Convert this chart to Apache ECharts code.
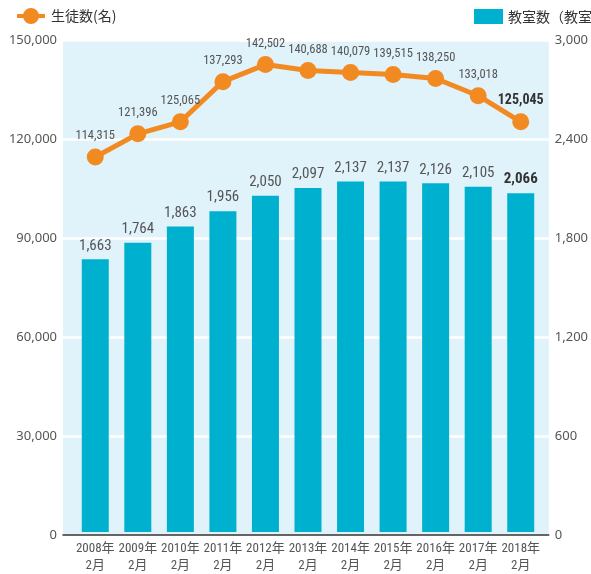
<!DOCTYPE html>
<html>
<head>
  <meta charset="utf-8">
  <title>生徒数と教室数</title>
  <script src="https://cdn.jsdelivr.net/npm/echarts@6/dist/echarts.min.js"></script>
  <style>
    body { margin: 0; background: #fff; }
    #chart { width: 591px; height: 574px; }
  </style>
</head>
<body>
  <div id="chart"></div>
  <script>
    const years = ['2008年\n2月', '2009年\n2月', '2010年\n2月', '2011年\n2月', '2012年\n2月', '2013年\n2月',
                   '2014年\n2月', '2015年\n2月', '2016年\n2月', '2017年\n2月', '2018年\n2月'];
    const students = [114315, 121396, 125065, 137293, 142502, 140688, 140079, 139515, 138250, 133018, 125045];
    const rooms = [1663, 1764, 1863, 1956, 2050, 2097, 2137, 2137, 2126, 2105, 2066];

    const narrow = "'Roboto Condensed', 'Noto Sans CJK JP', sans-serif";
    const cjk = "'Noto Sans CJK JP', sans-serif";
    const last = years.length - 1;
    // 凡例の線＋丸アイコン
    const lineIcon = 'path://M1,6 L29,6 L29,10 L1,10 Z M15,0 A8,8 0 1 1 15,16 A8,8 0 1 1 15,0 Z';

    const chart = echarts.init(document.getElementById('chart'));
    chart.setOption({
      animation: false,
      textStyle: { fontFamily: narrow },
      legend: [
        {
          data: [{ name: '生徒数(名)', icon: lineIcon }], left: 17, top: 8, padding: 0,
          itemWidth: 30, itemHeight: 16, itemGap: 8,
          textStyle: { fontFamily: cjk, fontSize: 14, color: '#333' }
        },
        {
          data: [{ name: '教室数（教室）', icon: 'rect' }], left: 474, top: 9, padding: 0,
          itemWidth: 29, itemHeight: 15, itemGap: 6,
          textStyle: { fontFamily: cjk, fontSize: 14, color: '#333' }
        }
      ],
      grid: [
        { left: 63, right: 40, top: 40, bottom: 39, show: true, backgroundColor: '#E0F2FA', borderWidth: 0 },
        { left: 74, right: 49, top: 40, bottom: 39 }
      ],
      xAxis: [
        {
          type: 'category', gridIndex: 0, data: years,
          axisLine: { lineStyle: { color: '#333', width: 1.5 } },
          axisTick: { show: false }, axisLabel: { show: false }
        },
        {
          type: 'category', gridIndex: 1, data: years,
          axisLine: { show: false }, axisTick: { show: false },
          axisLabel: { interval: 0, color: '#555', fontSize: 13, fontFamily: narrow, lineHeight: 17, margin: 8 }
        }
      ],
      yAxis: [
        {
          type: 'value', gridIndex: 0, min: 0, max: 150000, interval: 30000,
          axisLine: { show: false }, axisTick: { show: false },
          axisLabel: { color: '#555', fontSize: 13, fontFamily: "'Noto Sans', sans-serif", margin: 6,
            formatter: v => v.toLocaleString('en-US') },
          splitLine: { lineStyle: { color: '#fff', width: 2.5 } }
        },
        {
          type: 'value', gridIndex: 0, position: 'right', min: 0, max: 3000, interval: 600,
          axisLine: { show: false }, axisTick: { show: false },
          axisLabel: { color: '#555', fontSize: 13, fontFamily: "'Noto Sans', sans-serif", margin: 6,
            formatter: v => v.toLocaleString('en-US') },
          splitLine: { show: false }
        },
        { type: 'value', gridIndex: 1, min: 0, max: 150000, show: false },
        { type: 'value', gridIndex: 1, min: 0, max: 3000, show: false }
      ],
      series: [
        {
          name: '教室数（教室）', type: 'bar', xAxisIndex: 1, yAxisIndex: 3,
          barWidth: 27, itemStyle: { color: '#00B0CF' },
          label: {
            show: true, position: 'top', distance: 6, color: '#555', fontSize: 15,
            fontFamily: narrow,
            formatter: p => p.value.toLocaleString('en-US')
          },
          data: rooms.map((v, i) => i === last
            ? { value: v, label: { fontWeight: 'bold', color: '#333' } }
            : v),
          z: 2
        },
        {
          name: '生徒数(名)', type: 'line', xAxisIndex: 1, yAxisIndex: 2,
          symbol: 'circle', symbolSize: 17,
          lineStyle: { color: '#F28A22', width: 5 },
          itemStyle: { color: '#F28A22' },
          label: {
            show: true, position: 'top', distance: 6, color: '#555', fontSize: 12.5,
            fontFamily: narrow,
            formatter: p => p.value.toLocaleString('en-US')
          },
          data: students.map((v, i) => i === last
            ? { value: v, label: { fontWeight: 'bold', color: '#333', fontSize: 14 } }
            : v),
          z: 3
        }
      ]
    });
  </script>
</body>
</html>
